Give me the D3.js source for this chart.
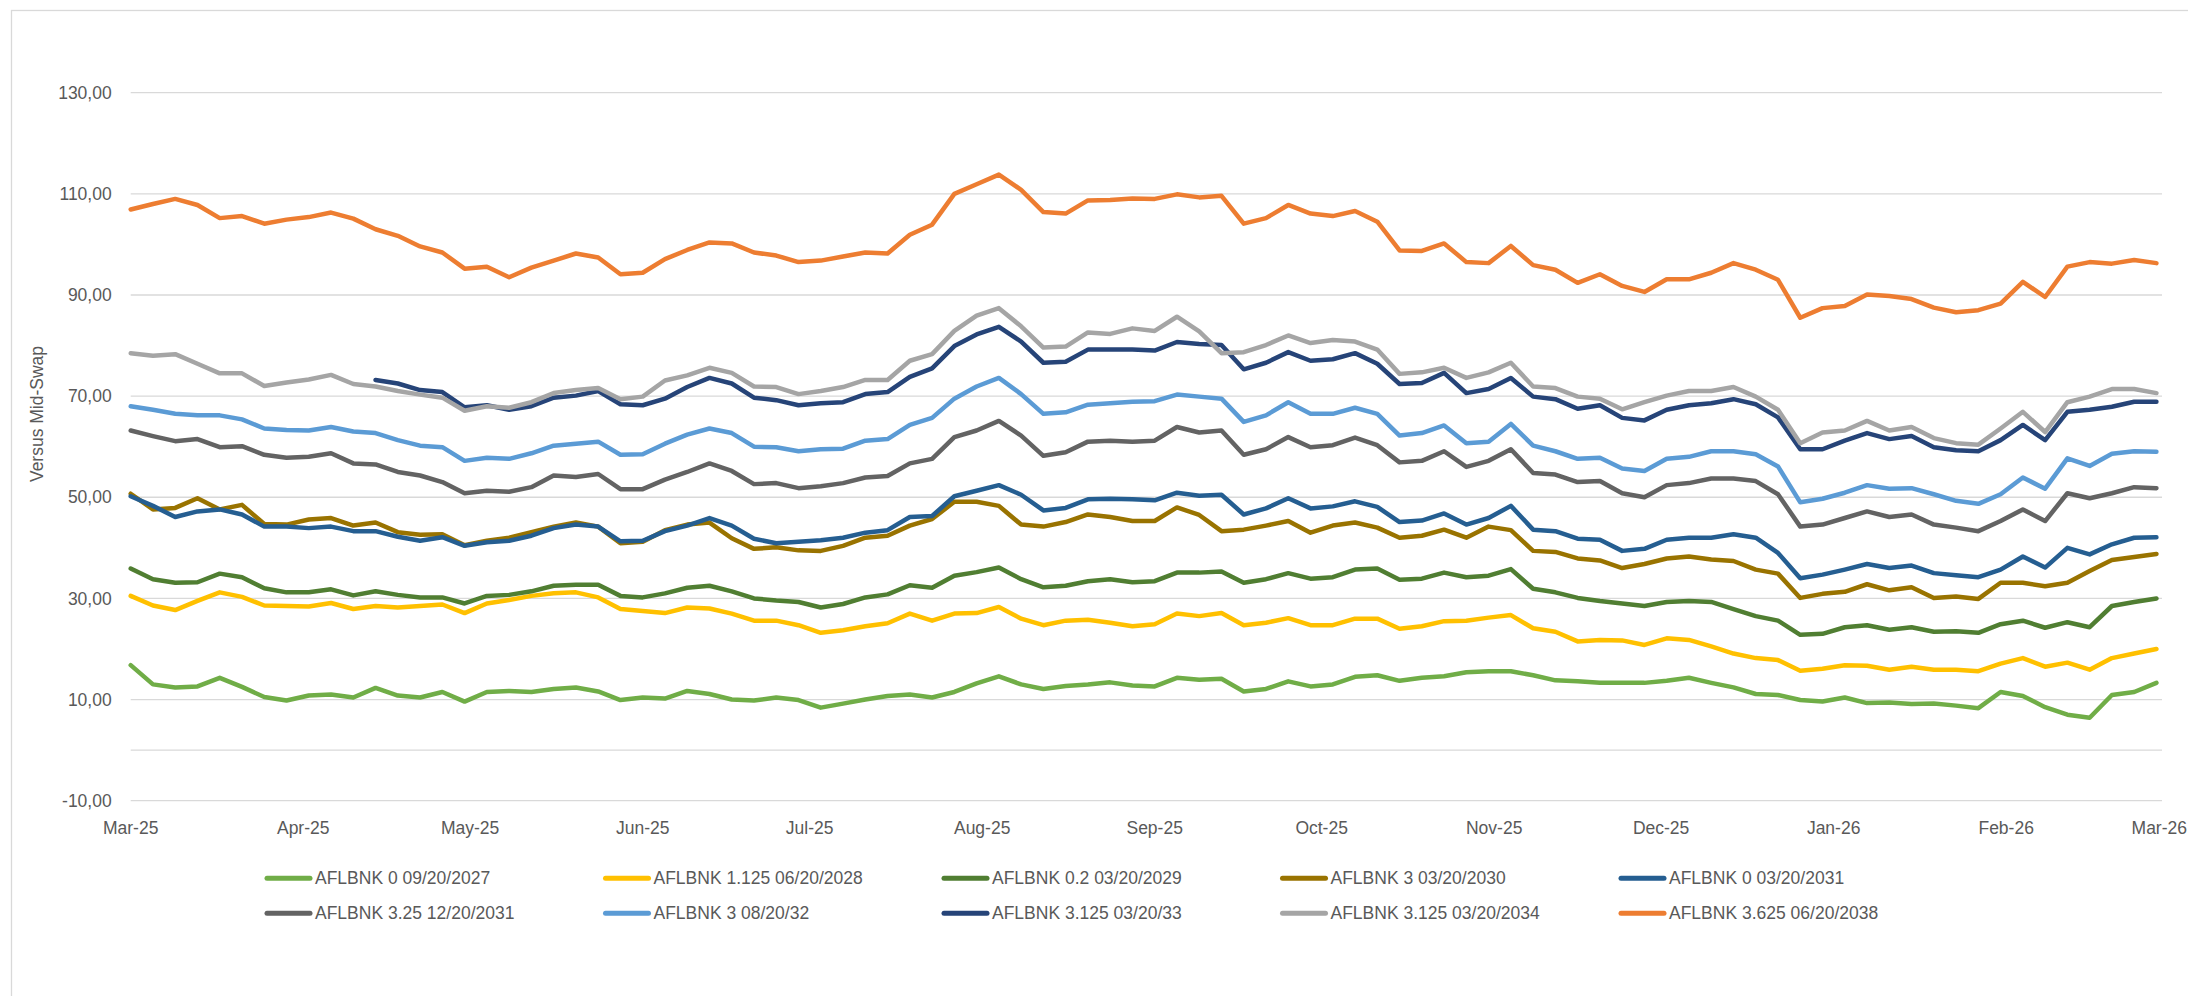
<!DOCTYPE html>
<html>
<head>
<meta charset="utf-8">
<script src="https://cdn.jsdelivr.net/npm/d3@7"></script>
<style>
  body { margin: 0; background: #fff; }
  svg { display: block; }
  text { font-family: "Liberation Sans", Arial, sans-serif; fill: #595959; }
</style>
</head>
<body>
<svg id="chart" width="2188" height="996"></svg>
<script>
// sample dates (every 4 days)
const dates = [
  "2025-03-03","2025-03-07","2025-03-11","2025-03-15","2025-03-19","2025-03-23","2025-03-27","2025-03-31",
  "2025-04-04","2025-04-08","2025-04-12","2025-04-16","2025-04-20","2025-04-24","2025-04-28",
  "2025-05-02","2025-05-06","2025-05-10","2025-05-14","2025-05-18","2025-05-22","2025-05-26","2025-05-30",
  "2025-06-03","2025-06-07","2025-06-11","2025-06-15","2025-06-19","2025-06-23","2025-06-27",
  "2025-07-01","2025-07-05","2025-07-09","2025-07-13","2025-07-17","2025-07-21","2025-07-25","2025-07-29",
  "2025-08-02","2025-08-06","2025-08-10","2025-08-14","2025-08-18","2025-08-22","2025-08-26","2025-08-30",
  "2025-09-03","2025-09-07","2025-09-11","2025-09-15","2025-09-19","2025-09-23","2025-09-27",
  "2025-10-01","2025-10-05","2025-10-09","2025-10-13","2025-10-17","2025-10-21","2025-10-25","2025-10-29",
  "2025-11-02","2025-11-06","2025-11-10","2025-11-14","2025-11-18","2025-11-22","2025-11-26","2025-11-30",
  "2025-12-04","2025-12-08","2025-12-12","2025-12-16","2025-12-20","2025-12-24","2025-12-28",
  "2026-01-01","2026-01-05","2026-01-09","2026-01-13","2026-01-17","2026-01-21","2026-01-25","2026-01-29",
  "2026-02-02","2026-02-06","2026-02-10","2026-02-14","2026-02-18","2026-02-22","2026-02-26",
  "2026-03-02"
];

const names = [
  "AFLBNK 0 09/20/2027", "AFLBNK 1.125 06/20/2028", "AFLBNK 0.2 03/20/2029",
  "AFLBNK 3 03/20/2030", "AFLBNK 0 03/20/2031", "AFLBNK 3.25 12/20/2031",
  "AFLBNK 3 08/20/32", "AFLBNK 3.125 03/20/33", "AFLBNK 3.125 03/20/2034",
  "AFLBNK 3.625 06/20/2038"
];
const colors = ["#70AD47","#FFC000","#507E32","#997300","#255E91","#636363","#5B9BD5","#264478","#A5A5A5","#ED7D31"];

const s0_2027 = [16.8,13.0,12.4,12.6,14.3,12.5,10.5,9.8,10.8,11.0,10.4,12.3,10.8,10.4,
  11.5,9.6,11.5,11.7,11.5,12.1,12.4,11.6,9.9,10.4,10.2,11.7,11.1,
  10.0,9.8,10.4,9.9,8.4,9.2,10.0,10.7,11.0,10.4,11.5,13.2,14.6,
  13.0,12.1,12.7,13.0,13.4,12.8,12.6,14.3,13.9,14.1,11.6,12.1,13.6,
  12.6,13.0,14.5,14.8,13.7,14.3,14.6,15.4,15.6,15.6,14.8,13.8,13.6,
  13.3,13.3,13.3,13.7,14.3,13.3,12.4,11.1,10.9,9.9,9.6,10.4,9.3,
  9.4,9.1,9.2,8.8,8.3,11.5,10.7,8.5,7.0,6.4,10.9,11.5,13.3];
const s1125_2028 = [30.5,28.6,27.7,29.5,31.2,30.3,28.6,28.5,28.4,29.1,27.9,28.5,28.2,28.5,
  28.8,27.1,29.0,29.7,30.5,31.0,31.2,30.2,27.9,27.5,27.1,28.2,28.0,
  27.0,25.6,25.6,24.7,23.2,23.7,24.5,25.1,27.0,25.6,27.0,27.1,28.3,
  26.0,24.7,25.6,25.8,25.2,24.5,24.9,27.0,26.5,27.1,24.7,25.2,26.1,
  24.7,24.7,26.0,26.0,24.0,24.5,25.5,25.6,26.2,26.7,24.1,23.4,21.5,
  21.8,21.7,20.8,22.1,21.8,20.5,19.1,18.2,17.8,15.7,16.1,16.8,16.7,
  15.9,16.5,15.9,15.9,15.6,17.1,18.2,16.5,17.3,15.9,18.2,19.1,20.0];
const s02_2029 = [35.9,33.8,33.1,33.2,34.9,34.2,32.0,31.2,31.2,31.8,30.6,31.4,30.7,30.2,
  30.2,29.0,30.5,30.7,31.4,32.5,32.7,32.7,30.5,30.2,31.0,32.1,32.5,
  31.4,30.0,29.6,29.3,28.2,28.9,30.2,30.8,32.6,32.1,34.5,35.2,36.1,
  33.8,32.2,32.5,33.4,33.8,33.2,33.4,35.1,35.1,35.3,33.1,33.8,35.0,
  33.9,34.2,35.7,35.9,33.7,33.9,35.1,34.2,34.5,35.8,31.9,31.2,30.1,
  29.5,29.0,28.5,29.3,29.5,29.3,27.9,26.5,25.6,22.8,23.0,24.3,24.7,
  23.8,24.3,23.4,23.5,23.2,24.9,25.6,24.2,25.3,24.3,28.5,29.3,30.0];
const s3_2030 = [50.7,47.6,47.9,49.8,47.6,48.5,44.7,44.6,45.6,45.9,44.4,45.0,43.1,42.6,
  42.7,40.5,41.4,42.0,43.1,44.2,45.0,44.2,40.9,41.2,43.5,44.6,45.0,
  41.9,39.8,40.1,39.5,39.4,40.4,42.0,42.4,44.4,45.7,49.1,49.1,48.3,
  44.6,44.2,45.1,46.6,46.1,45.3,45.3,48.0,46.5,43.3,43.6,44.4,45.3,
  43.0,44.4,45.0,44.0,42.0,42.4,43.6,42.0,44.2,43.5,39.4,39.2,37.9,
  37.5,36.0,36.8,37.9,38.3,37.7,37.4,35.7,34.9,30.1,30.9,31.3,32.8,
  31.6,32.2,30.1,30.4,29.9,33.1,33.1,32.4,33.1,35.4,37.6,38.2,38.8];
const s0_2031 = [50.2,48.3,46.1,47.2,47.6,46.6,44.2,44.2,43.9,44.2,43.3,43.3,42.2,41.4,
  42.1,40.4,41.1,41.4,42.4,43.9,44.6,44.2,41.3,41.4,43.3,44.4,45.9,
  44.4,41.8,40.9,41.2,41.5,42.0,43.0,43.5,46.1,46.3,50.2,51.3,52.4,
  50.5,47.4,47.9,49.6,49.7,49.6,49.4,50.9,50.3,50.5,46.6,47.8,49.8,
  47.8,48.2,49.2,48.1,45.1,45.4,46.8,44.6,45.9,48.3,43.6,43.3,41.8,
  41.6,39.4,39.8,41.6,42.0,42.0,42.7,42.0,39.0,34.0,34.7,35.7,36.8,
  36.0,36.5,35.0,34.6,34.2,35.7,38.3,36.1,40.0,38.7,40.7,42.0,42.1];
const s325_2031 = [63.2,62.1,61.1,61.5,59.9,60.1,58.4,57.8,58.0,58.7,56.7,56.5,55.0,54.3,
  53.0,50.8,51.3,51.1,52.0,54.3,54.0,54.6,51.6,51.6,53.5,55.0,56.7,
  55.2,52.6,52.8,51.8,52.2,52.8,53.9,54.2,56.7,57.6,61.9,63.2,65.1,
  62.2,58.2,58.9,61.0,61.2,61.0,61.2,63.9,62.8,63.2,58.4,59.5,61.9,
  59.9,60.3,61.8,60.3,56.9,57.2,59.1,56.0,57.2,59.5,54.8,54.5,53.0,
  53.2,50.8,50.0,52.4,52.8,53.7,53.7,53.2,50.6,44.2,44.6,45.9,47.2,
  46.1,46.6,44.6,44.0,43.3,45.3,47.6,45.3,50.8,49.8,50.8,52.0,51.8];
const s3_32 = [68.0,67.3,66.5,66.2,66.2,65.4,63.6,63.3,63.2,63.9,63.0,62.7,61.3,60.2,
  59.9,57.2,57.8,57.6,58.7,60.2,60.6,61.0,58.4,58.5,60.6,62.4,63.6,
  62.7,60.0,59.9,59.1,59.5,59.6,61.2,61.5,64.3,65.7,69.5,71.9,73.6,
  70.4,66.5,66.8,68.3,68.6,68.9,69.0,70.3,69.9,69.5,64.9,66.2,68.8,
  66.5,66.5,67.7,66.5,62.2,62.7,64.2,60.7,61.0,64.5,60.2,59.1,57.6,
  57.8,55.7,55.2,57.6,58.0,59.1,59.1,58.5,56.1,49.0,49.7,50.9,52.4,
  51.7,51.8,50.6,49.3,48.7,50.6,53.9,51.7,57.7,56.2,58.6,59.1,59.0];
const s3125_33 = [null,null,null,null,null,null,null,null,null,null,null,73.2,72.5,71.2,
  70.8,67.8,68.2,67.3,68.0,69.7,70.1,71.0,68.4,68.2,69.5,71.8,73.6,
  72.5,69.7,69.2,68.2,68.6,68.8,70.4,70.8,73.8,75.5,79.9,82.2,83.7,
  80.8,76.6,76.8,79.2,79.2,79.2,79.0,80.7,80.3,80.1,75.3,76.6,78.7,
  77.0,77.3,78.5,76.4,72.4,72.6,74.6,70.6,71.4,73.6,69.9,69.4,67.5,
  68.2,65.7,65.2,67.3,68.2,68.6,69.4,68.4,65.8,59.5,59.5,61.2,62.7,
  61.5,62.1,59.9,59.3,59.1,61.3,64.3,61.3,66.9,67.3,67.9,68.9,68.9];
const s3125_2034 = [78.5,78.0,78.3,76.4,74.5,74.5,72.0,72.7,73.3,74.2,72.4,71.9,71.0,70.3,
  69.7,67.1,68.0,67.7,68.8,70.6,71.2,71.6,69.4,69.9,73.1,74.1,75.6,
  74.6,71.9,71.8,70.4,71.0,71.8,73.2,73.2,77.0,78.3,82.9,85.9,87.4,
  83.8,79.6,79.8,82.6,82.3,83.4,82.9,85.7,82.8,78.5,78.7,80.1,82.0,
  80.5,81.1,80.8,79.2,74.4,74.7,75.6,73.6,74.7,76.6,71.9,71.6,69.9,
  69.5,67.4,68.8,70.1,71.0,71.0,71.8,69.9,67.3,60.7,62.8,63.2,65.1,
  63.2,63.9,61.7,60.7,60.4,63.6,66.9,62.9,68.8,69.9,71.4,71.4,70.6];
const s3625_2038 = [106.9,108.0,109.0,107.8,105.2,105.6,104.1,104.9,105.4,106.3,105.1,103.0,101.7,99.6,
  98.4,95.2,95.6,93.5,95.4,96.8,98.2,97.4,94.1,94.4,97.1,98.9,100.4,
  100.2,98.4,97.8,96.5,96.8,97.6,98.4,98.2,101.9,103.9,110.0,111.9,113.8,
  110.8,106.4,106.1,108.7,108.8,109.1,109.0,109.9,109.3,109.6,104.1,105.2,107.8,
  106.1,105.6,106.6,104.5,98.8,98.7,100.2,96.5,96.3,99.7,95.9,95.0,92.4,
  94.1,91.8,90.6,93.1,93.1,94.4,96.3,95.0,93.0,85.5,87.4,87.8,90.1,
  89.8,89.2,87.5,86.6,87.0,88.3,92.6,89.6,95.6,96.5,96.2,96.9,96.3];

const yTicks = [-10, 10, 30, 50, 70, 90, 110, 130];
const monthTicks = ["2025-03-03","2025-04-03","2025-05-03","2025-06-03","2025-07-03","2025-08-03",
  "2025-09-03","2025-10-03","2025-11-03","2025-12-03","2026-01-03","2026-02-03","2026-03-03"];

const seriesData = [s0_2027, s1125_2028, s02_2029, s3_2030, s0_2031,
  s325_2031, s3_32, s3125_33, s3125_2034, s3625_2038];

const parse = d3.timeParse("%Y-%m-%d");
const xDates = dates.map(parse);

const svg = d3.select("#chart");

// outer chart border (runs off the right/bottom of the picture)
svg.append("rect")
  .attr("x", 11.5).attr("y", 10.5)
  .attr("width", 2300).attr("height", 1100)
  .attr("fill", "#fff")
  .attr("stroke", "#d9d9d9")
  .attr("stroke-width", 1.3);

const x = d3.scaleTime()
  .domain([parse("2025-03-03"), parse("2026-03-03")])
  .range([130.7, 2162]);
const y = d3.scaleLinear()
  .domain([-10, 130])
  .range([800.7, 92.7]);

// gridlines + zero axis line
svg.append("g")
  .selectAll("line")
  .data(yTicks.concat([0]))
  .enter().append("line")
    .attr("x1", x.range()[0]).attr("x2", x.range()[1])
    .attr("y1", d => y(d)).attr("y2", d => y(d))
    .attr("stroke", "#d9d9d9")
    .attr("stroke-width", 1.3);

// y labels (comma decimals, plain hyphen for minus)
svg.append("g")
  .selectAll("text")
  .data(yTicks)
  .enter().append("text")
    .attr("x", 111.7)
    .attr("y", d => y(d))
    .attr("dy", "0.35em")
    .attr("text-anchor", "end")
    .style("font-size", "17.5px")
    .text(d => (d < 0 ? "-" : "") + Math.abs(d).toFixed(2).replace(".", ","));

// x labels (last one kept inside the picture)
const fmtMonth = d3.timeFormat("%b-%y");
svg.append("g")
  .selectAll("text")
  .data(monthTicks.map(parse))
  .enter().append("text")
    .attr("x", (d, i) => i === monthTicks.length - 1 ? 2187 : x(d))
    .attr("y", 833.5)
    .attr("text-anchor", (d, i) => i === monthTicks.length - 1 ? "end" : "middle")
    .style("font-size", "17.5px")
    .text(d => fmtMonth(d));

// axis title
svg.append("text")
  .attr("transform", "translate(42.5,414) rotate(-90)")
  .attr("text-anchor", "middle")
  .style("font-size", "17.5px")
  .text("Versus Mid-Swap");

// lines
const line = d3.line()
  .defined(d => d[1] != null)
  .x(d => x(d[0]))
  .y(d => y(d[1]));

svg.append("g")
  .selectAll("path")
  .data(seriesData)
  .enter().append("path")
    .attr("d", vals => line(vals.map((v, i) => [xDates[i], v])))
    .attr("fill", "none")
    .attr("stroke", (d, i) => colors[i])
    .attr("stroke-width", 4.5)
    .attr("stroke-linejoin", "round")
    .attr("stroke-linecap", "round");

// legend
const legend = svg.append("g")
  .selectAll("g")
  .data(names)
  .enter().append("g")
    .attr("transform", (d, i) => "translate(" + (265 + 338.5 * (i % 5)) + "," + (878.3 + 35 * Math.floor(i / 5)) + ")");

legend.append("line")
  .attr("x1", 2).attr("x2", 45)
  .attr("stroke", (d, i) => colors[i])
  .attr("stroke-width", 5)
  .attr("stroke-linecap", "round");

legend.append("text")
  .attr("x", 50)
  .attr("dy", "0.35em")
  .style("font-size", "17.5px")
  .text(d => d);
</script>
</body>
</html>
